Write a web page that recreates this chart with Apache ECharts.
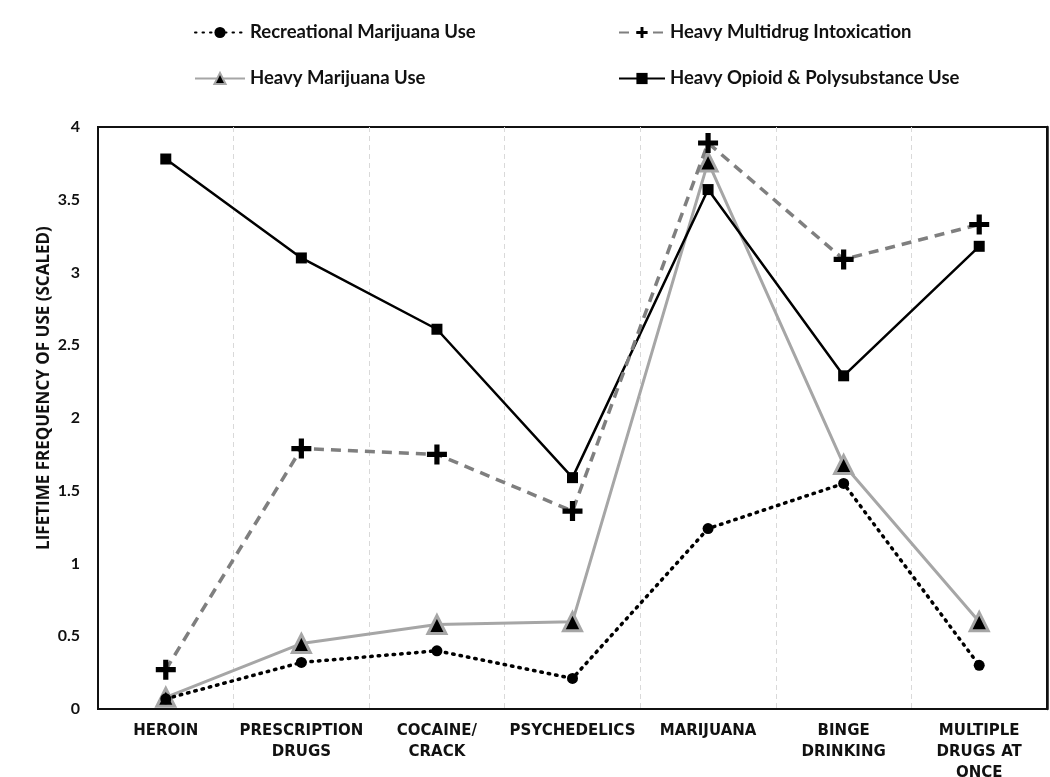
<!DOCTYPE html>
<html>
<head>
<meta charset="utf-8">
<script src="https://cdn.jsdelivr.net/npm/echarts@6/dist/echarts.min.js"></script>
<style>html,body{margin:0;padding:0;background:#fff;}#c{width:1050px;height:777px;}</style>
</head>
<body>
<div id="c"></div>
<script>
const categories = ['HEROIN', 'PRESCRIPTION\nDRUGS', 'COCAINE/\nCRACK', 'PSYCHEDELICS', 'MARIJUANA', 'BINGE\nDRINKING', 'MULTIPLE\nDRUGS AT\nONCE'];
const recreationalMarijuana = [0.07, 0.32, 0.40, 0.21, 1.24, 1.55, 0.30];
const heavyMultidrug = [0.27, 1.79, 1.75, 1.36, 3.89, 3.09, 3.33];
const heavyMarijuana = [0.08, 0.45, 0.58, 0.60, 3.76, 1.68, 0.60];
const heavyOpioid = [3.78, 3.10, 2.61, 1.59, 3.57, 2.29, 3.18];
const yTicks = { min: 0, max: 4, interval: 0.5 };

const plusPath = 'path://M3.7,0H6.3V3.7H10V6.3H6.3V10H3.7V6.3H0V3.7H3.7Z';
const FONT = 'Lato';

const chart = echarts.init(document.getElementById('c'), null, { renderer: 'canvas' });
function legendAt(name, left, top, w) {
  return {
    data: [name], left: left, top: top, itemWidth: w, itemHeight: 14, itemGap: 4,
    textStyle: { fontFamily: FONT, fontWeight: 'bold', fontSize: 18.5, color: '#111' }
  };
}
chart.setOption({
  animation: false,
  backgroundColor: '#fff',
  legend: [
    legendAt('Recreational Marijuana Use', 189, 18, 50),
    legendAt('Heavy Multidrug Intoxication', 613, 18, 46),
    legendAt('Heavy Marijuana Use', 189, 64, 50),
    legendAt('Heavy Opioid & Polysubstance Use', 613, 64, 46)
  ],
  grid: { left: 98, right: 3, top: 127, bottom: 68, outerBoundsMode: 'none', containLabel: false, show: true, borderColor: '#111', borderWidth: 2, backgroundColor: 'transparent' },
  xAxis: {
    type: 'category', data: categories, boundaryGap: true,
    axisLine: { lineStyle: { color: '#111', width: 2 } },
    axisTick: { show: false },
    splitLine: { show: true, showMinLine: false, showMaxLine: false, lineStyle: { color: '#d9d9d9', type: [5, 4], width: 1 } },
    axisLabel: { interval: 0, margin: 12, lineHeight: 21, fontFamily: 'DejaVu Sans', fontWeight: 'bold', fontSize: 15, color: '#111' }
  },
  yAxis: [{
    type: 'value', min: yTicks.min, max: yTicks.max, interval: yTicks.interval,
    name: 'LIFETIME FREQUENCY OF USE (SCALED)', nameLocation: 'middle', nameGap: 45, nameRotate: 90, nameMoveOverlap: false,
    nameTextStyle: { fontFamily: 'Open Sans', fontWeight: 'bold', fontSize: 17, color: '#111', padding: [0, 0, 0, 60] },
    axisLine: { show: true, lineStyle: { color: '#111', width: 2 } },
    axisTick: { show: false },
    splitLine: { show: false },
    axisLabel: { margin: 18, fontFamily: FONT, fontWeight: 'bold', fontSize: 16, color: '#111' }
  }, {
    type: 'value', position: 'right', min: yTicks.min, max: yTicks.max, interval: yTicks.interval,
    axisLine: { show: true, lineStyle: { color: '#111', width: 2.5 } },
    axisTick: { show: false }, axisLabel: { show: false }, splitLine: { show: false }
  }],
  series: [
    {
      name: 'Heavy Marijuana Use', type: 'line', data: heavyMarijuana, z: 2,
      symbol: 'triangle', symbolSize: 18,
      itemStyle: { color: '#000', borderColor: '#a6a6a6', borderWidth: 3 },
      lineStyle: { color: '#a6a6a6', width: 3, type: 'solid' }
    },
    {
      name: 'Heavy Opioid & Polysubstance Use', type: 'line', data: heavyOpioid, z: 3,
      symbol: 'rect', symbolSize: 11,
      itemStyle: { color: '#000' },
      lineStyle: { color: '#000', width: 2.5, type: 'solid' }
    },
    {
      name: 'Recreational Marijuana Use', type: 'line', data: recreationalMarijuana, z: 4,
      symbol: 'circle', symbolSize: 11,
      itemStyle: { color: '#000' },
      lineStyle: { color: '#000', width: 3.5, type: [1.5, 6], cap: 'round' }
    },
    {
      name: 'Heavy Multidrug Intoxication', type: 'line', data: heavyMultidrug, z: 5,
      symbol: plusPath, symbolSize: 20,
      itemStyle: { color: '#000' },
      lineStyle: { color: '#7f7f7f', width: 3.5, type: [10, 7] }
    }
  ]
});
</script>
</body>
</html>
